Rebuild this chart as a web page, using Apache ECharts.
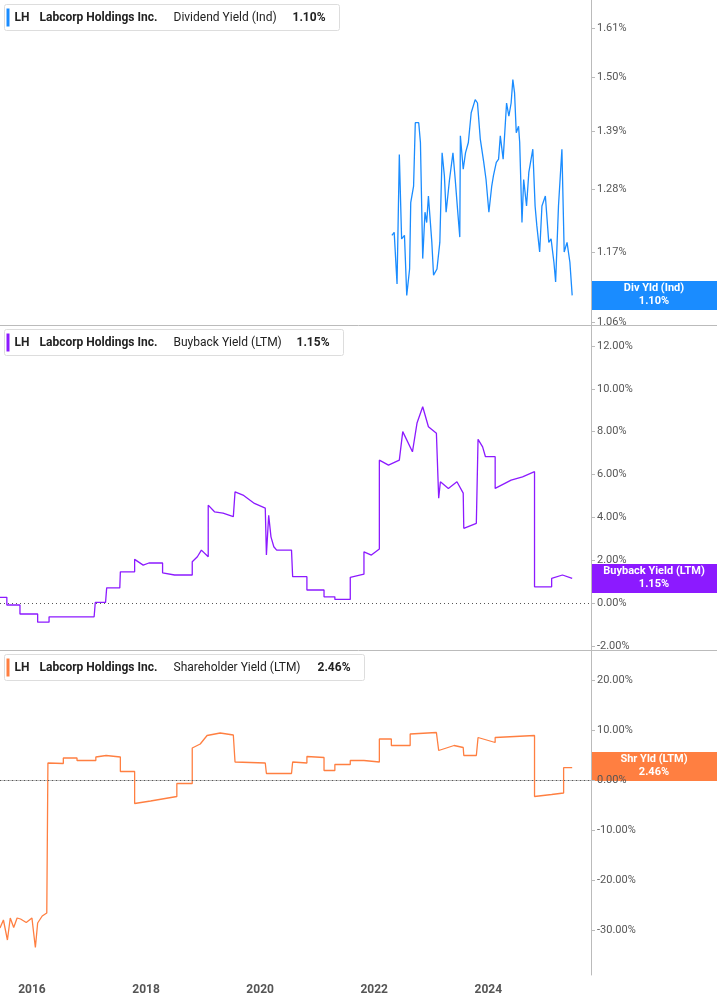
<!DOCTYPE html>
<html><head><meta charset="utf-8">
<script src="https://cdn.jsdelivr.net/npm/echarts@6/dist/echarts.min.js"></script>
<style>html,body{margin:0;padding:0;background:#fff}#c{width:717px;height:1005px}</style>
</head><body><div id="c"></div>
<script>
const xTicks = [2016, 2018, 2020, 2022, 2024];
const divTicks = [1.06, 1.17, 1.28, 1.39, 1.50, 1.61];
const buyTicks = [-2, 0, 2, 4, 6, 8, 10, 12];
const shrTicks = [-30, -20, -10, 0, 10, 20];
const divYears = [2022.31,2022.35,2022.40,2022.44,2022.48,2022.53,2022.57,2022.62,2022.64,2022.69,2022.72,2022.78,2022.81,2022.85,2022.89,2022.92,2022.95,2023.01,2023.04,2023.10,2023.15,2023.19,2023.23,2023.26,2023.32,2023.38,2023.42,2023.46,2023.50,2023.51,2023.56,2023.60,2023.65,2023.70,2023.77,2023.81,2023.86,2023.92,2023.96,2024.01,2024.06,2024.09,2024.14,2024.18,2024.21,2024.26,2024.32,2024.36,2024.40,2024.43,2024.46,2024.49,2024.53,2024.55,2024.59,2024.62,2024.67,2024.71,2024.78,2024.82,2024.85,2024.90,2024.94,2025.00,2025.06,2025.10,2025.15,2025.18,2025.23,2025.29,2025.33,2025.38,2025.43,2025.47];
const divVals = [1.199,1.204,1.119,1.345,1.193,1.199,1.101,1.143,1.256,1.286,1.407,1.407,1.368,1.160,1.239,1.221,1.268,1.187,1.133,1.143,1.187,1.348,1.305,1.239,1.298,1.348,1.298,1.245,1.196,1.381,1.317,1.348,1.368,1.427,1.454,1.447,1.374,1.330,1.298,1.239,1.286,1.305,1.330,1.336,1.381,1.336,1.447,1.420,1.447,1.496,1.468,1.387,1.400,1.368,1.221,1.298,1.250,1.311,1.355,1.250,1.216,1.171,1.250,1.268,1.187,1.193,1.154,1.122,1.250,1.355,1.171,1.187,1.154,1.101];
const buyYears = [2015.44,2015.56,2015.56,2015.79,2015.79,2016.10,2016.10,2016.30,2016.30,2017.09,2017.11,2017.29,2017.31,2017.54,2017.55,2017.80,2017.80,2017.95,2018.05,2018.29,2018.29,2018.50,2018.81,2018.81,2018.90,2018.97,2019.09,2019.09,2019.20,2019.35,2019.53,2019.56,2019.70,2019.90,2020.09,2020.11,2020.15,2020.19,2020.24,2020.29,2020.55,2020.57,2020.82,2020.82,2021.12,2021.12,2021.31,2021.31,2021.58,2021.58,2021.82,2021.82,2021.95,2022.09,2022.09,2022.25,2022.44,2022.50,2022.67,2022.75,2022.85,2022.95,2023.09,2023.13,2023.16,2023.30,2023.45,2023.56,2023.57,2023.79,2023.82,2023.90,2023.95,2024.12,2024.12,2024.40,2024.60,2024.81,2024.81,2025.11,2025.11,2025.30,2025.47];
const buyVals = [0.27,0.27,-0.09,-0.09,-0.51,-0.51,-0.89,-0.89,-0.64,-0.64,0.03,0.03,0.71,0.71,1.46,1.46,2.04,1.77,1.87,1.87,1.41,1.31,1.31,1.93,2.16,2.47,2.16,4.57,4.26,4.20,4.03,5.19,5.04,4.65,4.43,2.24,4.10,3.09,2.63,2.47,2.47,1.23,1.23,0.61,0.61,0.29,0.29,0.17,0.17,1.20,1.35,2.39,2.24,2.52,6.67,6.44,6.67,8.00,7.06,8.40,9.16,8.23,7.92,4.89,5.66,5.35,5.66,5.13,3.49,3.72,7.64,7.29,6.83,6.83,5.35,5.74,5.89,6.13,0.76,0.76,1.15,1.31,1.15];
const shrYears = [2015.44,2015.50,2015.57,2015.62,2015.68,2015.74,2015.80,2015.90,2016.00,2016.03,2016.06,2016.10,2016.18,2016.26,2016.28,2016.55,2016.55,2016.79,2016.79,2017.12,2017.12,2017.30,2017.55,2017.55,2017.80,2017.80,2018.08,2018.54,2018.54,2018.81,2018.81,2018.95,2019.07,2019.30,2019.53,2019.56,2020.09,2020.11,2020.19,2020.55,2020.57,2020.82,2020.82,2021.12,2021.12,2021.31,2021.31,2021.58,2021.58,2021.82,2021.82,2022.09,2022.09,2022.30,2022.30,2022.63,2022.63,2023.09,2023.13,2023.40,2023.56,2023.57,2023.79,2023.82,2024.12,2024.12,2024.81,2024.81,2025.11,2025.32,2025.32,2025.47];
const shrVals = [-29.6,-28.0,-32.0,-27.6,-29.5,-27.6,-27.8,-28.5,-27.6,-30.6,-33.5,-28.6,-27.2,-26.6,3.4,3.3,4.4,4.4,3.9,3.9,4.6,4.9,4.6,1.7,1.7,-4.7,-4.2,-3.3,-0.7,-0.7,6.4,7.2,8.9,9.4,9.0,3.6,3.4,1.3,1.3,1.3,3.6,3.4,4.7,4.5,1.9,1.9,3.1,3.1,3.9,3.9,3.6,3.6,8.2,8.2,6.9,6.9,9.2,9.5,5.9,6.9,6.5,4.9,4.9,8.5,7.5,8.5,8.9,-3.3,-2.9,-2.6,2.46,2.46];

const zip = (a, b, f) => a.map((x, i) => [x, f ? f(b[i]) : b[i]]);
const X0 = 2015.44, X1 = 2025.8;
const lab = {color:'#555', fontSize:11, fontFamily:'Roboto'};
function yAxis(gi, min, max, ticks, fmt, log) {
  return {gridIndex: gi, type: 'value', position: 'right', min, max, scale: true,
    axisLine: {show: true, lineStyle: {color: '#bbb'}}, splitLine: {show: false},
    axisTick: {show: true, customValues: ticks.map(t => log ? Math.log(t) : t), length: 4, lineStyle:{color:'#bbb'}},
    axisLabel: Object.assign({customValues: ticks.map(t => log ? Math.log(t) : t), formatter: v => fmt(log ? Math.exp(v) : v), margin: 6}, lab)};
}
function xAxis(gi, show) {
  return {gridIndex: gi, type: 'value', min: X0, max: X1, splitLine: {show: false},
    axisLine: {show: show, lineStyle: {color: '#bbb'}}, axisTick: {show: false},
    axisLabel: show ? {customValues: xTicks, formatter: v => String(Math.round(v)), color: '#555', fontSize: 12, fontWeight: 'bold', fontFamily:'Roboto', margin: 9} : {show: false}};
}
const zeroLine = {silent: true, symbol: 'none', label: {show: false}, lineStyle: {color: '#555', type: [1, 3], width: 1}, data: [{yAxis: 0}]};
function legend(y, color, name, val, w) {
  return {type: 'group', left: 4, top: y, children: [
    {type: 'rect', shape: {x: 0, y: 0, width: w, height: 26, r: 2}, style: {fill: '#fff', stroke: '#ddd'}},
    {type: 'rect', shape: {x: 2, y: 4, width: 3, height: 18}, style: {fill: color}},
    {type: 'text', x: 10, y: 7, style: {text: 'LH', fill: '#222', font: 'bold 12px Roboto'}},
    {type: 'text', x: 35, y: 7, style: {text: 'Labcorp Holdings Inc.', fill: '#222', font: 'bold 12px Roboto'}},
    {type: 'text', x: 169, y: 7, style: {text: name, fill: '#222', font: '12px Roboto'}},
    {type: 'text', x: w - 47, y: 7, style: {text: val, fill: '#222', font: 'bold 12px Roboto'}}]};
}
function badge(y, color, name, val) {
  return {type: 'group', left: 591, top: y, children: [
    {type: 'rect', shape: {x: 0, y: 0, width: 126, height: 29}, style: {fill: color}},
    {type: 'text', x: 63, y: 2, style: {text: name, fill: '#fff', font: 'bold 11px Roboto', align: 'center'}},
    {type: 'text', x: 63, y: 15, style: {text: val, fill: '#fff', font: 'bold 11px Roboto', align: 'center'}}]};
}
const chart = echarts.init(document.getElementById('c'));
chart.setOption({
  animation: false,
  grid: [{left: 0, right: 126, top: 0, height: 325}, {left: 0, right: 126, top: 326, height: 324}, {left: 0, right: 126, top: 651, height: 324}],
  xAxis: [xAxis(0, false), xAxis(1, false), xAxis(2, true)],
  yAxis: [yAxis(0, 0.0541, 0.5158, divTicks, v => v.toFixed(2) + '%', true),
          yAxis(1, -2.19, 12.93, buyTicks, v => v.toFixed(2) + '%'),
          yAxis(2, -39, 25.8, shrTicks, v => v.toFixed(2) + '%')],
  series: [
    {type: 'line', xAxisIndex: 0, yAxisIndex: 0, showSymbol: false, lineStyle: {color: '#1a8cff', width: 1.3}, data: zip(divYears, divVals, Math.log)},
    {type: 'line', xAxisIndex: 1, yAxisIndex: 1, showSymbol: false, lineStyle: {color: '#8c1aff', width: 1.3}, data: zip(buyYears, buyVals), markLine: zeroLine},
    {type: 'line', xAxisIndex: 2, yAxisIndex: 2, showSymbol: false, lineStyle: {color: '#ff7f41', width: 1.3}, data: zip(shrYears, shrVals), markLine: zeroLine}
  ],
  graphic: [
    {type: 'line', shape: {x1: 0, y1: 325.5, x2: 717, y2: 325.5}, style: {stroke: '#bbb'}},
    {type: 'line', shape: {x1: 0, y1: 650.5, x2: 717, y2: 650.5}, style: {stroke: '#bbb'}},
    legend(4, '#1a8cff', 'Dividend Yield (Ind)', '1.10%', 335),
    legend(329, '#8c1aff', 'Buyback Yield (LTM)', '1.15%', 339),
    legend(654, '#ff7f41', 'Shareholder Yield (LTM)', '2.46%', 360),
    badge(281, '#1a8cff', 'Div Yld (Ind)', '1.10%'),
    badge(564, '#8c1aff', 'Buyback Yield (LTM)', '1.15%'),
    badge(752, '#ff7f41', 'Shr Yld (LTM)', '2.46%')
  ]
});
</script></body></html>
